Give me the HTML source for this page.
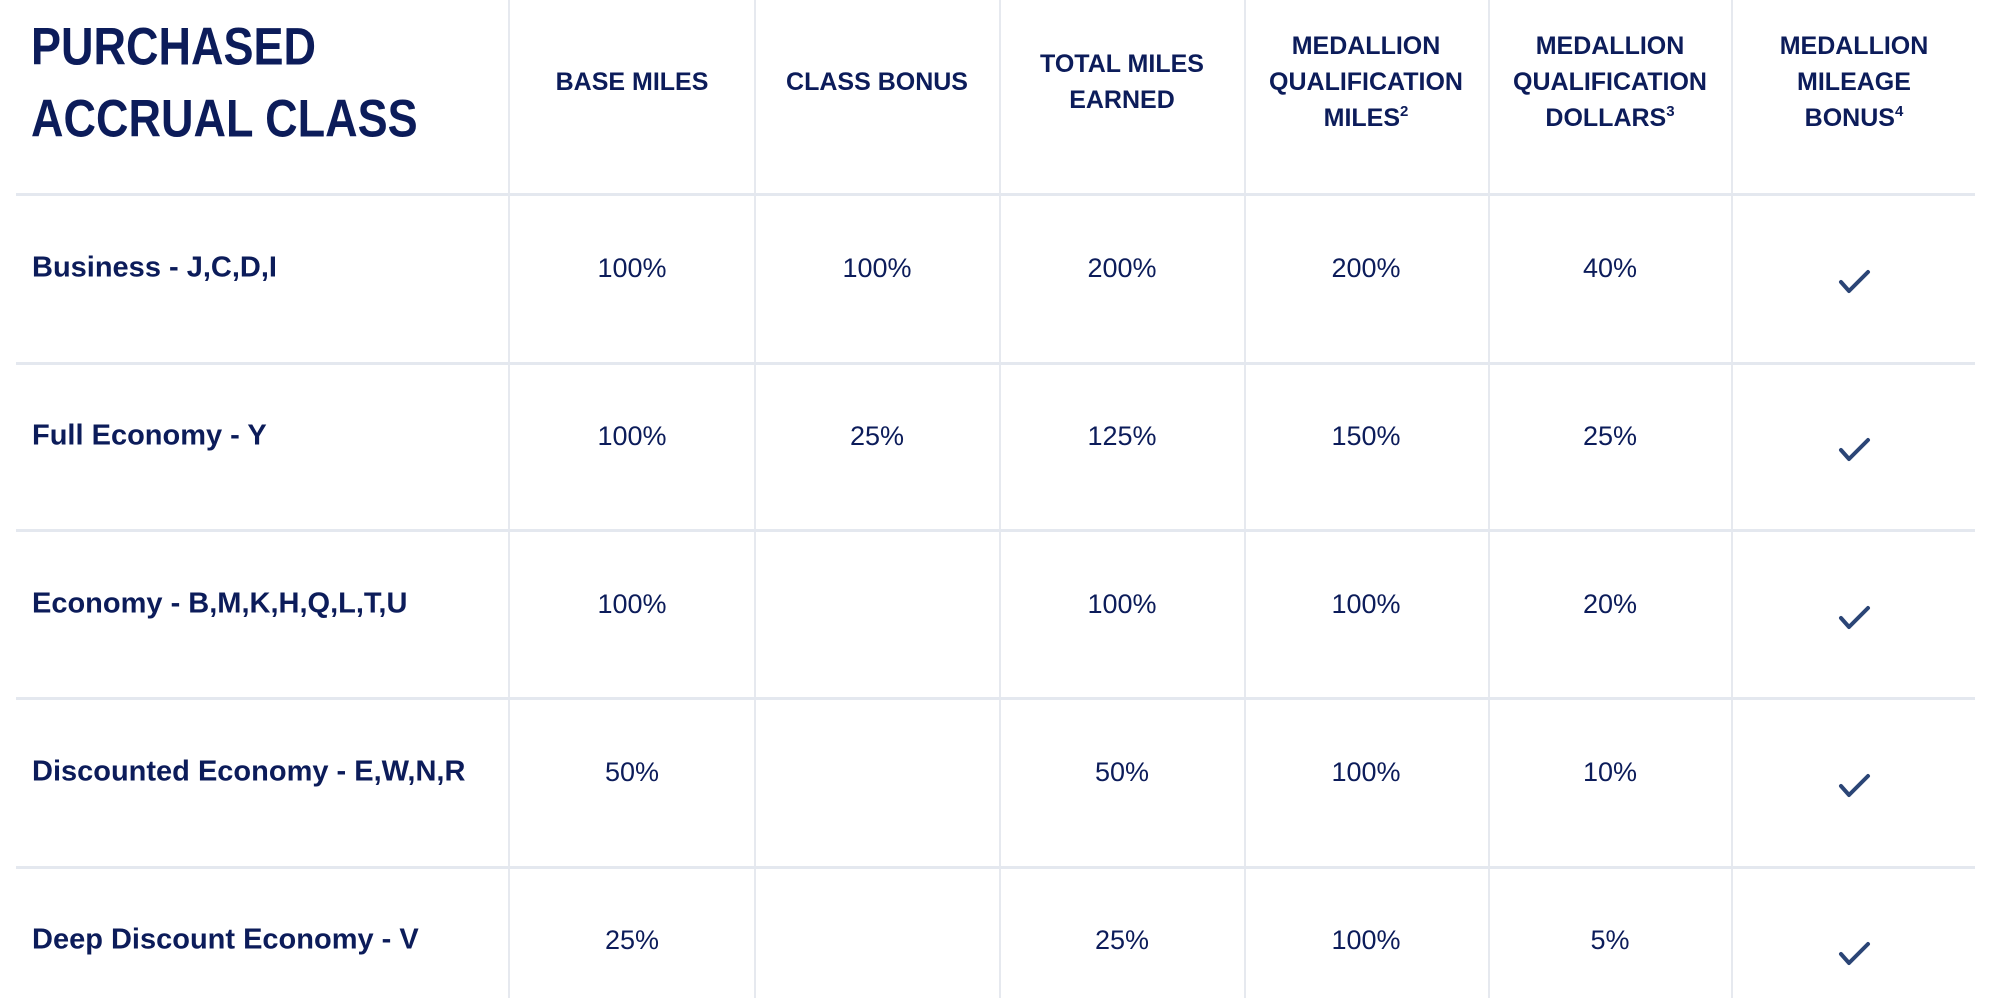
<!DOCTYPE html>
<html><head><style>
body{margin:0;width:1990px;height:998px;background:#fff;position:relative;overflow:hidden;font-family:"Liberation Sans",sans-serif;color:#0c1c5a}
.v{position:absolute;top:0;width:2px;height:998px;background:#e6e9ef}
.h{position:absolute;left:16px;width:1959px;height:3px;background:#e4e8ef}
.t{position:absolute;white-space:nowrap;line-height:36px;transform:translate(-50%,-50%);text-align:center}
.hd{font-weight:bold;font-size:25px}
.val{font-size:27px}
.lab{position:absolute;left:32px;font-weight:bold;font-size:29px;transform:translateY(-50%);white-space:nowrap}
sup{font-size:15px;vertical-align:10px;line-height:0}
.hl{position:absolute;left:31px;font-weight:bold;font-size:45px;white-space:nowrap;transform:translateY(-50%) scaleY(1.18);transform-origin:left center}
</style></head><body>
<div class="v" style="left:508px"></div><div class="v" style="left:754px"></div><div class="v" style="left:999px"></div><div class="v" style="left:1244px"></div><div class="v" style="left:1488px"></div><div class="v" style="left:1731px"></div>
<div class="h" style="top:193px"></div><div class="h" style="top:362px"></div><div class="h" style="top:529px"></div><div class="h" style="top:697px"></div><div class="h" style="top:866px"></div>
<div class="hl" style="top:47px">PURCHASED</div>
<div class="hl" style="top:119px">ACCRUAL CLASS</div>
<div class="t hd" style="left:632px;top:82px">BASE MILES</div>
<div class="t hd" style="left:877px;top:82px">CLASS BONUS</div>
<div class="t hd" style="left:1122px;top:82px">TOTAL MILES<br>EARNED</div>
<div class="t hd" style="left:1366px;top:82px">MEDALLION<br>QUALIFICATION<br>MILES<sup>2</sup></div>
<div class="t hd" style="left:1610px;top:82px">MEDALLION<br>QUALIFICATION<br>DOLLARS<sup>3</sup></div>
<div class="t hd" style="left:1854px;top:82px">MEDALLION<br>MILEAGE<br>BONUS<sup>4</sup></div>

<div class="lab" style="top:268px">Business - J,C,D,I</div>
<div class="lab" style="top:436px">Full Economy - Y</div>
<div class="lab" style="top:604px">Economy - B,M,K,H,Q,L,T,U</div>
<div class="lab" style="top:772px">Discounted Economy - E,W,N,R</div>
<div class="lab" style="top:940px">Deep Discount Economy - V</div>

<div class="t val" style="left:632px;top:268px">100%</div><div class="t val" style="left:877px;top:268px">100%</div><div class="t val" style="left:1122px;top:268px">200%</div><div class="t val" style="left:1366px;top:268px">200%</div><div class="t val" style="left:1610px;top:268px">40%</div>
<div class="t val" style="left:632px;top:436px">100%</div><div class="t val" style="left:877px;top:436px">25%</div><div class="t val" style="left:1122px;top:436px">125%</div><div class="t val" style="left:1366px;top:436px">150%</div><div class="t val" style="left:1610px;top:436px">25%</div>
<div class="t val" style="left:632px;top:604px">100%</div><div class="t val" style="left:1122px;top:604px">100%</div><div class="t val" style="left:1366px;top:604px">100%</div><div class="t val" style="left:1610px;top:604px">20%</div>
<div class="t val" style="left:632px;top:772px">50%</div><div class="t val" style="left:1122px;top:772px">50%</div><div class="t val" style="left:1366px;top:772px">100%</div><div class="t val" style="left:1610px;top:772px">10%</div>
<div class="t val" style="left:632px;top:940px">25%</div><div class="t val" style="left:1122px;top:940px">25%</div><div class="t val" style="left:1366px;top:940px">100%</div><div class="t val" style="left:1610px;top:940px">5%</div>

<svg style="position:absolute;left:0;top:0" width="1990" height="998">
<g fill="none" stroke="#2b4576" stroke-width="4" stroke-linecap="round" stroke-linejoin="round">
<polyline points="1841,282 1849,291 1868,272"/>
<polyline points="1841,450 1849,459 1868,440"/>
<polyline points="1841,618 1849,627 1868,608"/>
<polyline points="1841,786 1849,795 1868,776"/>
<polyline points="1841,954 1849,963 1868,944"/>
</g></svg>
</body></html>
